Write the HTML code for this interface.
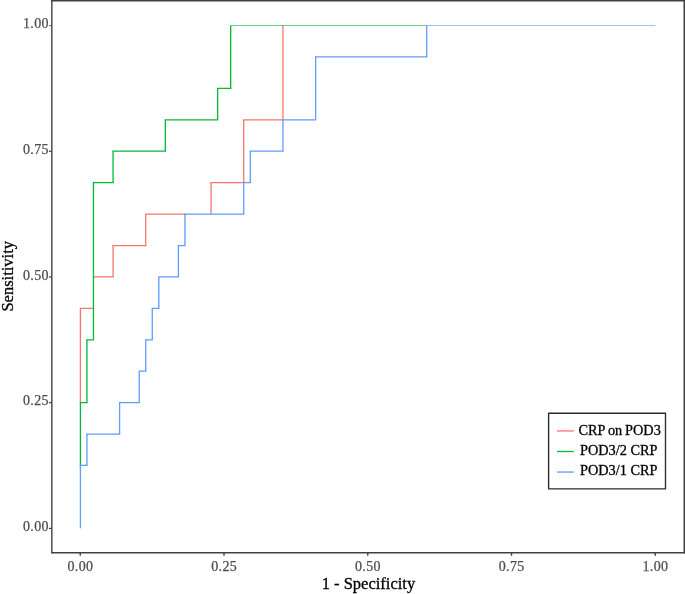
<!DOCTYPE html>
<html lang="en">
<head>
<meta charset="utf-8">
<title>ROC curves</title>
<style>
html,body{margin:0;padding:0;background:#fff;}
body{width:685px;height:594px;overflow:hidden;}
svg{display:block;will-change:transform;font-family:"Liberation Serif","Times New Roman",Times,serif;}
</style>
</head>
<body>
<svg width="685" height="594" viewBox="0 0 685 594">
<rect x="0" y="0" width="685" height="594" fill="#ffffff"/>
<g>
<!-- ROC curves -->
<g fill="none" stroke="#F8766D" stroke-linecap="square"><path d="M80.4 308.35H93.47M93.47 276.93H113.07M113.07 245.5H145.74M145.74 214.07H184.95M211.08 182.64H243.75M243.75 119.78H282.96" stroke-width="1.25"/><path d="M80.4 402.64V308.35M113.07 276.93V245.5M145.74 245.5V214.07M211.08 214.07V182.64M243.75 182.64V119.78M282.96 119.78V25.5" stroke-width="1.3" stroke-linecap="butt"/></g>
<g fill="none" stroke="#00BA38" stroke-linecap="square"><path d="M80.4 402.64H86.93M86.93 339.78H93.47M93.47 182.64H113.07M113.07 151.21H165.34M165.34 119.78H217.62M217.62 88.36H230.68" stroke-width="1.25"/><path d="M230.68 25.5H426.71" stroke-width="0.62" stroke-linecap="butt"/><path d="M80.4 465.49V402.64M86.93 402.64V339.78M93.47 339.78V182.64M113.07 182.64V151.21M165.34 151.21V119.78M217.62 119.78V88.36M230.68 88.36V25.5" stroke-width="1.3" stroke-linecap="butt"/></g>
<g fill="none" stroke="#619CFF" stroke-linecap="square"><path d="M80.4 465.49H86.93M86.93 434.07H119.6M119.6 402.64H139.21M139.21 371.21H145.74M145.74 339.78H152.28M152.28 308.35H158.81M158.81 276.93H178.41M178.41 245.5H184.95M184.95 214.07H243.75M243.75 182.64H250.29M250.29 151.21H282.96M282.96 119.78H315.63M315.63 56.93H426.71" stroke-width="1.25"/><path d="M426.71 25.5H655.4" stroke-width="0.62" stroke-linecap="butt"/><path d="M80.4 528.35V465.49M86.93 465.49V434.07M119.6 434.07V402.64M139.21 402.64V371.21M145.74 371.21V339.78M152.28 339.78V308.35M158.81 308.35V276.93M178.41 276.93V245.5M184.95 245.5V214.07M243.75 214.07V182.64M250.29 182.64V151.21M282.96 151.21V119.78M315.63 119.78V56.93M426.71 56.93V25.5" stroke-width="1.3" stroke-linecap="butt"/></g>
<!-- panel border -->
<g stroke="#404040" stroke-linecap="round"><line x1="51.85" y1="0.5" x2="51.85" y2="552.8" stroke-width="1.4"/><line x1="684.5" y1="0.5" x2="684.5" y2="552.8" stroke-width="2.0"/><line x1="51.85" y1="0.5" x2="684.5" y2="0.5" stroke-width="2.0"/><line x1="51.85" y1="552.8" x2="684.5" y2="552.8" stroke-width="1.4"/></g>
<!-- ticks and tick labels -->
<line x1="48.9" x2="51.85" y1="528.4" y2="528.4" stroke="#404040" stroke-width="1.2"/>
<line x1="80.25" x2="80.25" y1="552.8" y2="555.8" stroke="#404040" stroke-width="1.4"/>
<text x="48.85" y="531.15" text-anchor="end" letter-spacing="0.35" font-size="14.0" fill="#4d4d4d" stroke="#4d4d4d" stroke-width="0.25">0.00</text>
<text x="80.48" y="571.25" text-anchor="middle" letter-spacing="0.35" font-size="14.0" fill="#4d4d4d" stroke="#4d4d4d" stroke-width="0.25">0.00</text>
<line x1="48.9" x2="51.85" y1="402.69" y2="402.69" stroke="#404040" stroke-width="1.2"/>
<line x1="224.0" x2="224.0" y1="552.8" y2="555.8" stroke="#404040" stroke-width="1.4"/>
<text x="48.85" y="405.44" text-anchor="end" letter-spacing="0.35" font-size="14.0" fill="#4d4d4d" stroke="#4d4d4d" stroke-width="0.25">0.25</text>
<text x="224.23" y="571.25" text-anchor="middle" letter-spacing="0.35" font-size="14.0" fill="#4d4d4d" stroke="#4d4d4d" stroke-width="0.25">0.25</text>
<line x1="48.9" x2="51.85" y1="276.98" y2="276.98" stroke="#404040" stroke-width="1.2"/>
<line x1="367.75" x2="367.75" y1="552.8" y2="555.8" stroke="#404040" stroke-width="1.4"/>
<text x="48.85" y="279.73" text-anchor="end" letter-spacing="0.35" font-size="14.0" fill="#4d4d4d" stroke="#4d4d4d" stroke-width="0.25">0.50</text>
<text x="367.97" y="571.25" text-anchor="middle" letter-spacing="0.35" font-size="14.0" fill="#4d4d4d" stroke="#4d4d4d" stroke-width="0.25">0.50</text>
<line x1="48.9" x2="51.85" y1="151.26" y2="151.26" stroke="#404040" stroke-width="1.2"/>
<line x1="511.5" x2="511.5" y1="552.8" y2="555.8" stroke="#404040" stroke-width="1.4"/>
<text x="48.85" y="154.01" text-anchor="end" letter-spacing="0.35" font-size="14.0" fill="#4d4d4d" stroke="#4d4d4d" stroke-width="0.25">0.75</text>
<text x="511.72" y="571.25" text-anchor="middle" letter-spacing="0.35" font-size="14.0" fill="#4d4d4d" stroke="#4d4d4d" stroke-width="0.25">0.75</text>
<line x1="48.9" x2="51.85" y1="25.55" y2="25.55" stroke="#404040" stroke-width="0.8"/>
<line x1="655.25" x2="655.25" y1="552.8" y2="555.8" stroke="#404040" stroke-width="1.4"/>
<text x="48.85" y="28.3" text-anchor="end" letter-spacing="0.35" font-size="14.0" fill="#4d4d4d" stroke="#4d4d4d" stroke-width="0.25">1.00</text>
<text x="655.47" y="571.25" text-anchor="middle" letter-spacing="0.35" font-size="14.0" fill="#4d4d4d" stroke="#4d4d4d" stroke-width="0.25">1.00</text>
<!-- axis titles -->
<text x="368.4" y="589.0" text-anchor="middle" font-size="16.5" fill="#000" stroke="#000" stroke-width="0.3">1 - Specificity</text>
<text transform="translate(13.2,276.3) rotate(-90)" text-anchor="middle" font-size="16.5" fill="#000" stroke="#000" stroke-width="0.3">Sensitivity</text>
<!-- legend -->
<rect x="548.6" y="413.2" width="116.9" height="75.65" fill="#fff" stroke="#2a2a2a" stroke-width="1.35" stroke-linejoin="round"/>
<line x1="557.0" x2="573.8" y1="430.95" y2="430.95" stroke="#F8766D" stroke-width="1.3"/>
<text x="578.55" y="434.5" word-spacing="-0.7" font-size="14.3" fill="#000" stroke="#000" stroke-width="0.3">CRP on POD3</text>
<line x1="557.0" x2="573.8" y1="451.5" y2="451.5" stroke="#00BA38" stroke-width="1.3"/>
<text x="580.0" y="454.85" font-size="14.3" fill="#000" stroke="#000" stroke-width="0.3">POD3/2 CRP</text>
<line x1="557.0" x2="573.8" y1="472.05" y2="472.05" stroke="#619CFF" stroke-width="1.3"/>
<text x="580.0" y="475.05" font-size="14.3" fill="#000" stroke="#000" stroke-width="0.3">POD3/1 CRP</text>
</g>
</svg>
</body>
</html>
